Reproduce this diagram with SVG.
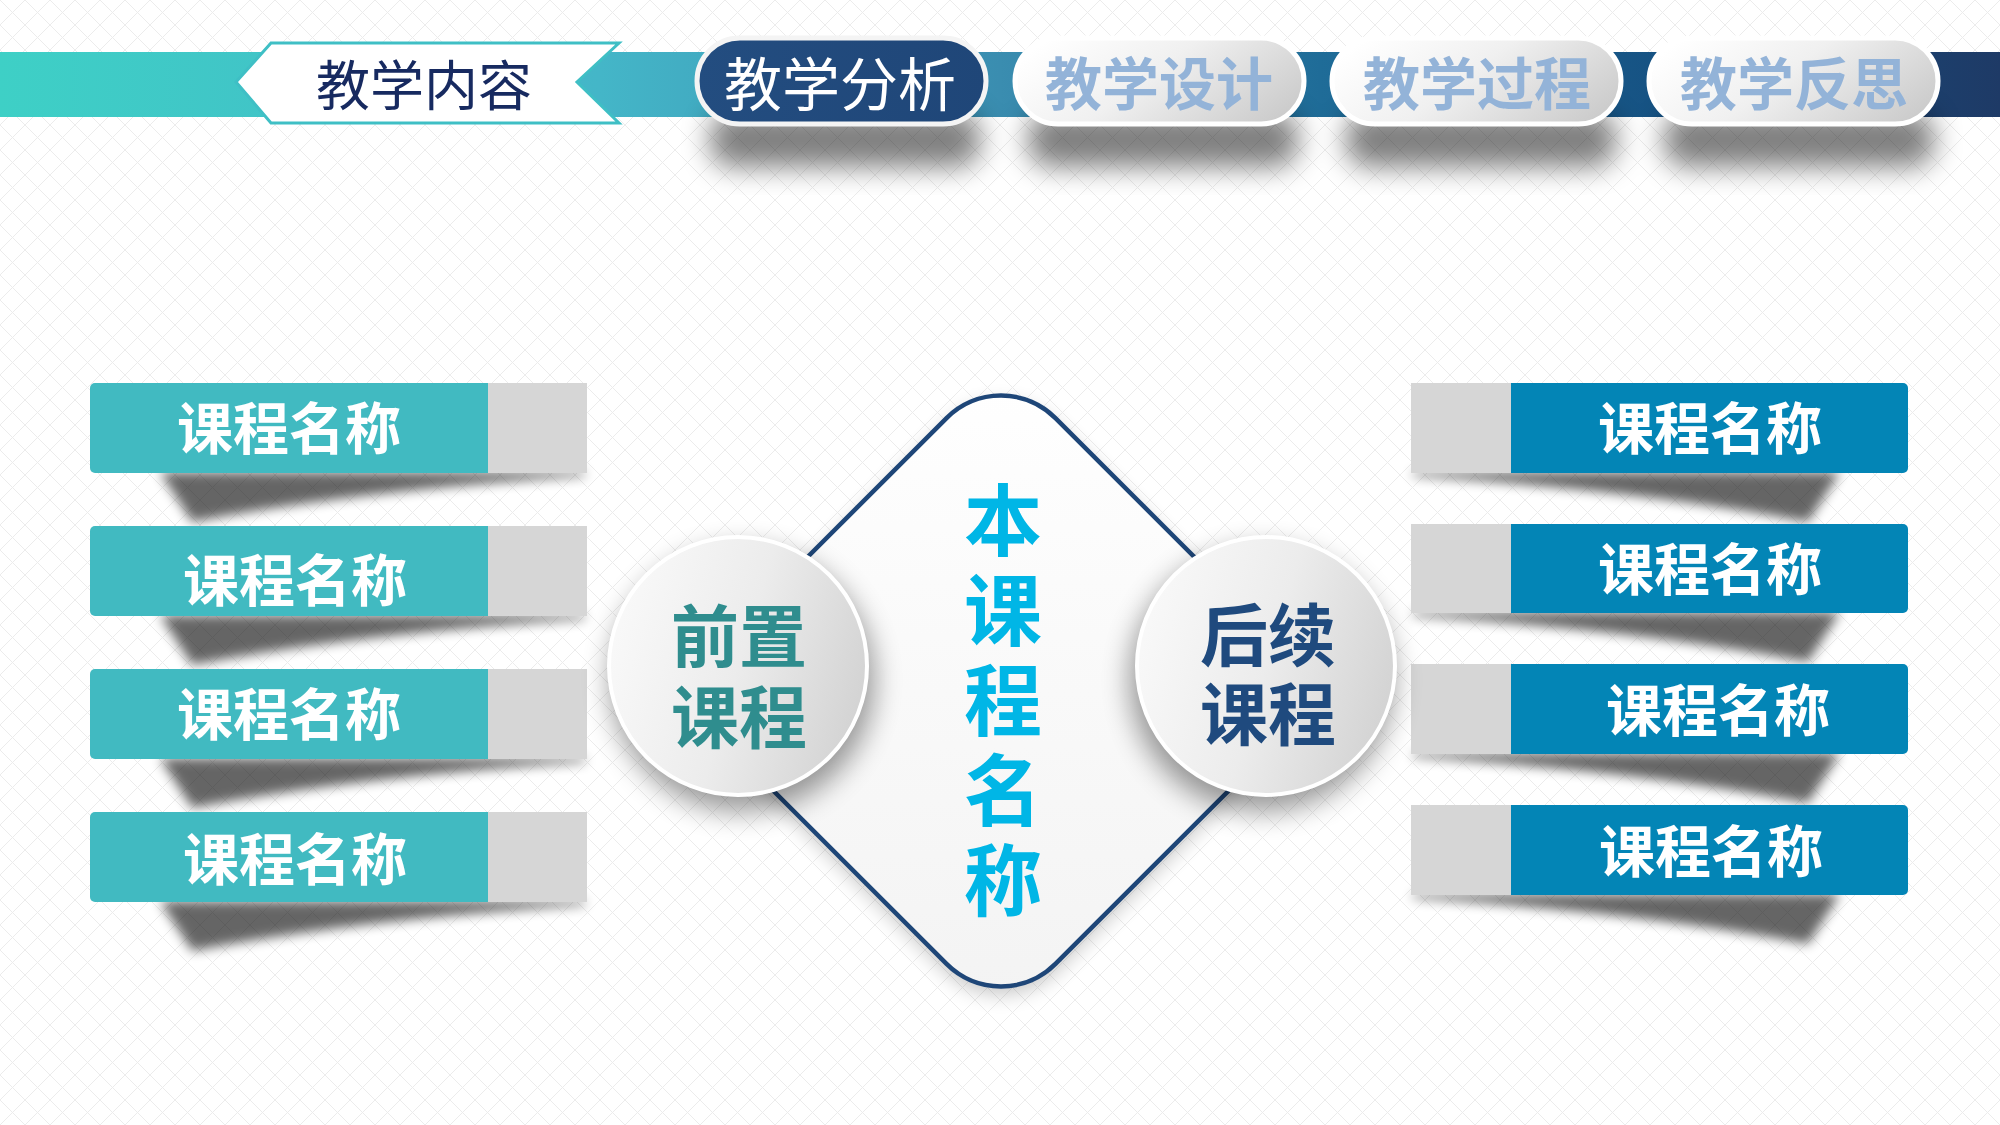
<svg xmlns="http://www.w3.org/2000/svg" width="2000" height="1125" viewBox="0 0 2000 1125">
<defs>
  <pattern id="grid" width="25" height="25" patternUnits="userSpaceOnUse">
    <path d="M0,0 L25,25 M25,0 L0,25" stroke="#ececec" stroke-width="1" fill="none"/>
  </pattern>
  <linearGradient id="barGrad" x1="0" y1="0" x2="1" y2="0">
    <stop offset="0" stop-color="#3ed0c6"/>
    <stop offset="0.3" stop-color="#44b6c8"/>
    <stop offset="0.5" stop-color="#3a8db0"/>
    <stop offset="0.66" stop-color="#1f6c98"/>
    <stop offset="0.83" stop-color="#165283"/>
    <stop offset="1" stop-color="#1e3a66"/>
  </linearGradient>
  <linearGradient id="pillLight" x1="0" y1="0.3" x2="1" y2="0.7">
    <stop offset="0" stop-color="#ffffff"/>
    <stop offset="0.45" stop-color="#f0f0f0"/>
    <stop offset="1" stop-color="#cccccc"/>
  </linearGradient>
  <linearGradient id="pillDark" x1="0" y1="0" x2="1" y2="0">
    <stop offset="0" stop-color="#234d80"/>
    <stop offset="1" stop-color="#1f4678"/>
  </linearGradient>
  <linearGradient id="circGrad" x1="0" y1="0.35" x2="1" y2="0.65">
    <stop offset="0" stop-color="#f9f9f9"/>
    <stop offset="0.5" stop-color="#ececec"/>
    <stop offset="1" stop-color="#d2d2d2"/>
  </linearGradient>
  <linearGradient id="diaGrad" x1="0" y1="0" x2="1" y2="1">
    <stop offset="0" stop-color="#ffffff"/>
    <stop offset="1" stop-color="#f3f3f3"/>
  </linearGradient>
  <filter id="blur6" x="-50%" y="-50%" width="200%" height="200%"><feGaussianBlur stdDeviation="6"/></filter>
  <filter id="blur10" x="-50%" y="-50%" width="200%" height="200%"><feGaussianBlur stdDeviation="10"/></filter>
  <filter id="blur14" x="-50%" y="-50%" width="200%" height="200%"><feGaussianBlur stdDeviation="14"/></filter>
  <style>
    .cjk{font-family:"Noto Sans CJK SC","Noto Sans CJK TC",sans-serif;}
    .boxtxt{font-size:56px;font-weight:700;fill:#ffffff;text-anchor:middle;}
    .pilltxt{font-size:57px;font-weight:700;fill:#93b3d8;text-anchor:middle;}
    .teal{fill:#41bac1;}
    .blue{fill:#0385b6;}
    .gray{fill:#d6d6d6;}
    .shadow{fill:#000000;opacity:0.6;}
    .pill{fill:url(#pillLight);stroke:#ffffff;stroke-width:5;}
  </style>
</defs>

<rect x="0" y="0" width="2000" height="1125" fill="#ffffff"/>
<rect x="0" y="0" width="2000" height="1125" fill="url(#grid)"/>

<g id="nav-bar">
  <rect x="0" y="52" width="2000" height="65" fill="url(#barGrad)"/>
  <g filter="url(#blur14)" opacity="0.5">
    <rect x="710" y="112" width="270" height="55" rx="22" fill="#000"/>
    <rect x="1028" y="112" width="270" height="55" rx="22" fill="#000"/>
    <rect x="1346" y="112" width="270" height="55" rx="22" fill="#000"/>
    <rect x="1664" y="112" width="270" height="55" rx="22" fill="#000"/>
  </g>
</g>

<g id="tab-content">
  <path d="M236,82 L271,43 L619,43 L577,82 L619,123 L271,123 Z" fill="#ffffff" stroke="#3fbfc5" stroke-width="3"/>
  <text class="cjk" x="424" y="106" font-size="54" font-weight="400" fill="#172a60" text-anchor="middle">教学内容</text>
</g>

<g id="pill-analysis">
  <rect x="697" y="38" width="289" height="86" rx="43" fill="url(#pillDark)" stroke="#f4f4f4" stroke-width="5"/>
  <text class="cjk" x="840" y="106" font-size="58" font-weight="400" fill="#ffffff" text-anchor="middle">教学分析</text>
</g>
<g id="pill-design">
  <rect class="pill" x="1015" y="38" width="289" height="86" rx="43"/>
  <text class="cjk pilltxt" x="1159" y="105">教学设计</text>
</g>
<g id="pill-process">
  <rect class="pill" x="1332" y="38" width="289" height="86" rx="43"/>
  <text class="cjk pilltxt" x="1477" y="105">教学过程</text>
</g>
<g id="pill-reflect">
  <rect class="pill" x="1649" y="38" width="289" height="86" rx="43"/>
  <text class="cjk pilltxt" x="1794" y="105">教学反思</text>
</g>

<g id="connectors"></g>

<g id="left-1">
  <path class="shadow" filter="url(#blur6)" d="M160,472 L585,472 L585,476 Q360,490 192,522 Z"/>
  <rect class="teal" x="90" y="383" width="403" height="90" rx="5"/>
  <rect class="gray" x="488" y="383" width="99" height="90"/>
  <text class="cjk boxtxt" x="289" y="449">课程名称</text>
</g>
<g id="left-2">
  <path class="shadow" filter="url(#blur6)" d="M160,615 L585,615 L585,619 Q360,633 192,665 Z"/>
  <rect class="teal" x="90" y="526" width="403" height="90" rx="5"/>
  <rect class="gray" x="488" y="526" width="99" height="90"/>
  <text class="cjk boxtxt" x="295" y="601">课程名称</text>
</g>
<g id="left-3">
  <path class="shadow" filter="url(#blur6)" d="M160,758 L585,758 L585,762 Q360,776 192,808 Z"/>
  <rect class="teal" x="90" y="669" width="403" height="90" rx="5"/>
  <rect class="gray" x="488" y="669" width="99" height="90"/>
  <text class="cjk boxtxt" x="289" y="735">课程名称</text>
</g>
<g id="left-4">
  <path class="shadow" filter="url(#blur6)" d="M160,901 L585,901 L585,905 Q360,919 192,951 Z"/>
  <rect class="teal" x="90" y="812" width="403" height="90" rx="5"/>
  <rect class="gray" x="488" y="812" width="99" height="90"/>
  <text class="cjk boxtxt" x="295" y="880">课程名称</text>
</g>

<g id="right-1">
  <path class="shadow" filter="url(#blur6)" d="M1840,472 L1413,472 L1413,476 Q1640,490 1808,522 Z"/>
  <rect class="blue" x="1506" y="383" width="402" height="90" rx="5"/>
  <rect class="gray" x="1411" y="383" width="100" height="90"/>
  <text class="cjk boxtxt" x="1710" y="449">课程名称</text>
</g>
<g id="right-2">
  <path class="shadow" filter="url(#blur6)" d="M1840,612 L1413,612 L1413,616 Q1640,630 1808,662 Z"/>
  <rect class="blue" x="1506" y="524" width="402" height="89" rx="5"/>
  <rect class="gray" x="1411" y="524" width="100" height="89"/>
  <text class="cjk boxtxt" x="1710" y="590">课程名称</text>
</g>
<g id="right-3">
  <path class="shadow" filter="url(#blur6)" d="M1840,753 L1413,753 L1413,757 Q1640,771 1808,803 Z"/>
  <rect class="blue" x="1506" y="664" width="402" height="90" rx="5"/>
  <rect class="gray" x="1411" y="664" width="100" height="90"/>
  <text class="cjk boxtxt" x="1718" y="731">课程名称</text>
</g>
<g id="right-4">
  <path class="shadow" filter="url(#blur6)" d="M1840,894 L1413,894 L1413,898 Q1640,912 1808,944 Z"/>
  <rect class="blue" x="1506" y="805" width="402" height="90" rx="5"/>
  <rect class="gray" x="1411" y="805" width="100" height="90"/>
  <text class="cjk boxtxt" x="1711" y="872">课程名称</text>
</g>

<g id="node-center">
  <rect x="-231.5" y="-231.5" width="463" height="463" rx="77" transform="translate(1001,699) rotate(45)" fill="#000" opacity="0.22" filter="url(#blur10)"/>
  <rect x="-231.5" y="-231.5" width="463" height="463" rx="77" transform="translate(1001,691) rotate(45)" fill="url(#diaGrad)" stroke="#1e4678" stroke-width="4.5"/>
  <text class="cjk" font-size="78" font-weight="700" fill="#00b6e6" text-anchor="middle" x="1003" y="550"><tspan x="1003" y="550">本</tspan><tspan x="1003" y="640">课</tspan><tspan x="1003" y="730">程</tspan><tspan x="1003" y="820">名</tspan><tspan x="1003" y="910">称</tspan></text>
</g>

<g id="node-pre">
  <circle cx="742" cy="680" r="132" fill="#000" opacity="0.4" filter="url(#blur14)"/>
  <circle cx="738" cy="666" r="129" fill="url(#circGrad)" stroke="#ffffff" stroke-width="4"/>
  <text class="cjk" font-size="68" font-weight="700" fill="#2f8d8e" text-anchor="middle"><tspan x="739" y="662">前置</tspan><tspan x="739" y="743">课程</tspan></text>
</g>

<g id="node-post">
  <circle cx="1262" cy="680" r="132" fill="#000" opacity="0.4" filter="url(#blur14)"/>
  <circle cx="1266" cy="666" r="129" fill="url(#circGrad)" stroke="#ffffff" stroke-width="4"/>
  <text class="cjk" font-size="68" font-weight="700" fill="#1f4a7e" text-anchor="middle"><tspan x="1268" y="661">后续</tspan><tspan x="1268" y="740">课程</tspan></text>
</g>
</svg>
